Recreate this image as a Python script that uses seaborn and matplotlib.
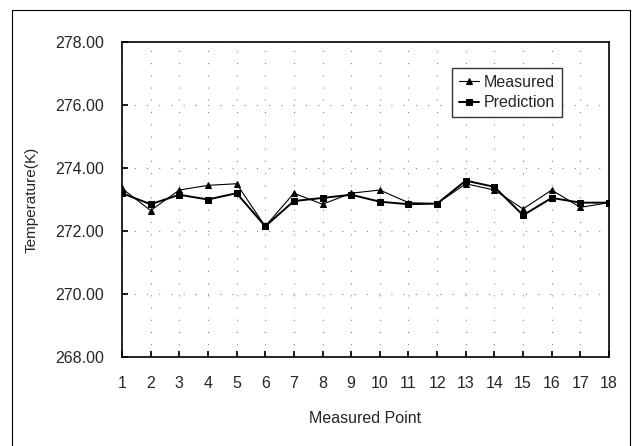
import numpy as np
import pandas as pd
import matplotlib
matplotlib.use("Agg")
import matplotlib.pyplot as plt
import seaborn as sns

# data
points = list(range(1, 19))
measured = [273.35, 272.65, 273.30, 273.45, 273.50, 272.15, 273.20, 272.85, 273.20,
            273.30, 272.90, 272.87, 273.50, 273.30, 272.70, 273.30, 272.75, 272.90]
prediction = [273.20, 272.85, 273.15, 273.00, 273.20, 272.15, 272.95, 273.05, 273.15,
              272.93, 272.85, 272.87, 273.60, 273.40, 272.50, 273.05, 272.90, 272.90]
y_ticks = [268, 270, 272, 274, 276, 278]

df = pd.DataFrame({"Point": points, "Measured": measured, "Prediction": prediction})

sns.set_theme(style="white")
plt.rcParams["font.family"] = ["Liberation Sans", "DejaVu Sans"]

fig = plt.figure(figsize=(6.36, 4.46), dpi=100)
ax = fig.add_axes([122 / 636, 1 - 357 / 446, (609 - 122) / 636, (357 - 42) / 446])

sns.lineplot(data=df, x="Point", y="Measured", ax=ax, color="black", lw=0.8,
             marker="^", markersize=4.5, markeredgecolor="black", label="Measured")
sns.lineplot(data=df, x="Point", y="Prediction", ax=ax, color="black", lw=1.4,
             marker="s", markersize=4.5, markeredgecolor="black", label="Prediction")

ax.set_xlim(1, 18)
ax.set_ylim(268, 278)
ax.set_xticks(points)
ax.set_yticks(y_ticks)
ax.set_yticklabels([f"{v:.2f}" for v in y_ticks])
ax.tick_params(direction="in", length=4, color="black", labelsize=11.5,
               bottom=True, left=True)
ax.tick_params(axis="y", pad=13)
ax.tick_params(axis="x", pad=14)

ax.grid(True, color="#888888", linestyle=(0, (1, 10)), linewidth=0.8)
for s in ax.spines.values():
    s.set_color("black")
    s.set_linewidth(1.2)

ax.set_xlabel("Measured Point", fontsize=11.5, labelpad=14)
ax.set_ylabel("Temperature(K)", fontsize=11, labelpad=12)

leg = ax.legend(loc="upper left", bbox_to_anchor=(0.678, 0.917), frameon=True,
                fancybox=False, edgecolor="black", fontsize=11.5,
                handlelength=1.3, handletextpad=0.3, borderpad=0.4,
                labelspacing=0.35, borderaxespad=0)
leg.get_frame().set_linewidth(1.0)

# outer chart border
fig.add_artist(plt.Line2D([12 / 636, 12 / 636], [0, 1 - 10 / 446],
                          transform=fig.transFigure, color="black", lw=0.8))
fig.add_artist(plt.Line2D([12 / 636, 630 / 636], [1 - 10 / 446, 1 - 10 / 446],
                          transform=fig.transFigure, color="black", lw=0.8))
fig.add_artist(plt.Line2D([630 / 636, 630 / 636], [0, 1 - 10 / 446],
                          transform=fig.transFigure, color="black", lw=0.8))

fig.savefig("out.png", dpi=100)
